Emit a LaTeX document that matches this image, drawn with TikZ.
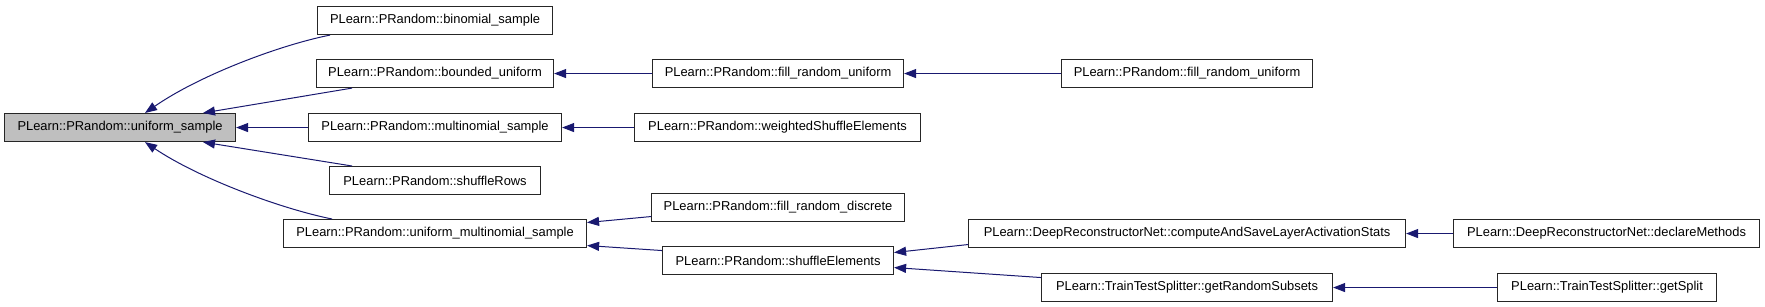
\documentclass[tikz,border=0pt]{standalone}
\usepackage{fontspec}
\setmainfont{Liberation Sans}
\usetikzlibrary{arrows.meta}
\definecolor{edgeblue}{HTML}{191970}
\definecolor{rootgray}{HTML}{BFBFBF}
\tikzset{
  fn/.style={draw=black!85, line width=1.1pt, fill=white, rectangle, anchor=north west,
    minimum height=28pt, inner sep=0pt, font=\fontsize{12.9}{15}\selectfont},
  rootfn/.style={fn, fill=rootgray},
  call/.style={draw=edgeblue, line width=1pt, -{Triangle[length=12pt,width=9pt]}, color=edgeblue}
}
\begin{document}
\begin{tikzpicture}[x=1pt,y=-1pt]
\useasboundingbox (0,0) rectangle (1765,307);
% nodes
\node[rootfn, minimum width=231pt] (us) at (4,113) {PLearn::PRandom::uniform\_sample};
\node[fn, minimum width=235pt] (bs) at (317,6) {PLearn::PRandom::binomial\_sample};
\node[fn, minimum width=237pt] (bu) at (316,59) {PLearn::PRandom::bounded\_uniform};
\node[fn, minimum width=253pt] (ms) at (308,113) {PLearn::PRandom::multinomial\_sample};
\node[fn, minimum width=211pt] (sr) at (329,166) {PLearn::PRandom::shuffleRows};
\node[fn, minimum width=303pt] (umn) at (283,219) {PLearn::PRandom::uniform\_multinomial\_sample};
\node[fn, minimum width=251pt] (fru) at (652,59) {PLearn::PRandom::fill\_random\_uniform};
\node[fn, minimum width=286pt] (wse) at (634,113) {PLearn::PRandom::weightedShuffleElements};
\node[fn, minimum width=253pt] (frd) at (651,193) {PLearn::PRandom::fill\_random\_discrete};
\node[fn, minimum width=231pt] (se) at (662,246) {PLearn::PRandom::shuffleElements};
\node[fn, minimum width=251pt] (frub) at (1061,59) {PLearn::PRandom::fill\_random\_uniform};
\node[fn, minimum width=437pt] (cas) at (968,219) {PLearn::DeepReconstructorNet::computeAndSaveLayerActivationStats};
\node[fn, minimum width=291pt] (grs) at (1041,273) {PLearn::TrainTestSplitter::getRandomSubsets};
\node[fn, minimum width=306pt] (dm) at (1453,219) {PLearn::DeepReconstructorNet::declareMethods};
\node[fn, minimum width=219pt] (gs) at (1497,273) {PLearn::TrainTestSplitter::getSplit};
% edges
\draw[call] ([xshift=13pt]bs.south west) .. controls (280,45) and (200,75) .. ([xshift=141pt]us.north west);
\draw[call] ([xshift=36pt]bu.south west) -- ([xshift=199pt]us.north west);
\draw[call] (ms.west) -- (us.east);
\draw[call] ([xshift=23pt]sr.north west) -- ([xshift=199pt]us.south west);
\draw[call] ([xshift=49pt]umn.north west) .. controls (282,209) and (200,179) .. ([xshift=141pt]us.south west);
\draw[call] (fru.west) -- (bu.east);
\draw[call] (frub.west) -- (fru.east);
\draw[call] (wse.west) -- (ms.east);
\draw[call] ([yshift=-9pt]frd.west) -- ([yshift=11pt]umn.east);
\draw[call] ([yshift=10pt]se.west) -- ([yshift=-12pt]umn.east);
\draw[call] ([yshift=-11pt]cas.west) -- ([yshift=8pt]se.east);
\draw[call] ([yshift=10pt]grs.west) -- ([yshift=-7pt]se.east);
\draw[call] (dm.west) -- (cas.east);
\draw[call] (gs.west) -- (grs.east);
\end{tikzpicture}
\end{document}
